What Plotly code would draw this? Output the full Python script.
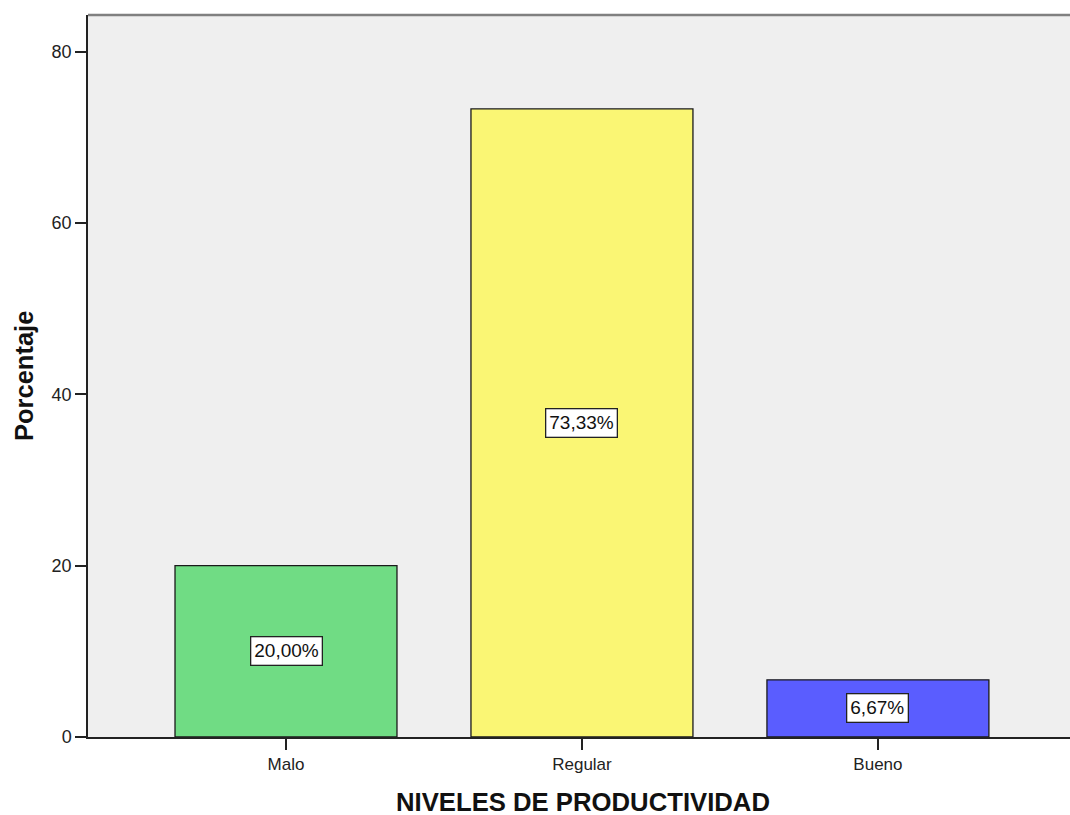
import plotly.graph_objects as go

categories = ["Malo", "Regular", "Bueno"]
percentages = [20.00, 73.33, 6.67]
bar_labels = ["20,00%", "73,33%", "6,67%"]
bar_colors = ["#70DC84", "#FAF674", "#5A5DFF"]
y_ticks = [0, 20, 40, 60, 80]

FONT = "Arial, Liberation Sans, sans-serif"
W, H = 1070, 815
M_L, M_R, M_T, M_B = 88, 0, 15, 78
plot_w = W - M_L - M_R
plot_h = H - M_T - M_B

fig = go.Figure()
fig.add_trace(go.Bar(
    x=categories,
    y=percentages,
    width=0.75,
    marker=dict(color=bar_colors, line=dict(color="#1a1a1a", width=1.3)),
    hoverinfo="skip",
))

# value boxes centred inside each bar
for cat, val, lab in zip(categories, percentages, bar_labels):
    fig.add_annotation(
        x=cat, y=val / 2, text=lab, showarrow=False,
        font=dict(family=FONT, size=19, color="#111111"),
        bgcolor="white", bordercolor="#222222", borderwidth=1.3, borderpad=3,
    )

# axis titles placed in pixel terms relative to the plot area
fig.add_annotation(
    xref="paper", yref="paper", x=(583 - M_L) / plot_w, y=-(802 - (M_T + plot_h)) / plot_h,
    xanchor="center", yanchor="middle", showarrow=False,
    text="<b>NIVELES DE PRODUCTIVIDAD</b>", font=dict(family=FONT, size=25.7, color="#111111"),
)
fig.add_annotation(
    xref="paper", yref="paper", x=-(M_L - 24) / plot_w, y=0.5,
    xanchor="center", yanchor="middle", showarrow=False, textangle=-90,
    text="<b>Porcentaje</b>", font=dict(family=FONT, size=25.5, color="#111111"),
)

# grey frame line along the top of the plot area
fig.add_shape(type="line", xref="paper", yref="paper", x0=0, x1=1, y0=1, y1=1,
              line=dict(color="#808080", width=2.5))

fig.update_layout(
    width=W, height=H,
    margin=dict(l=M_L, r=M_R, t=M_T, b=M_B),
    paper_bgcolor="white",
    plot_bgcolor="#EFEFEF",
    showlegend=False,
    font=dict(family=FONT, color="#222222"),
)
fig.update_xaxes(
    range=[-0.669, 2.649],
    showline=True, linecolor="#222222", linewidth=1.5,
    ticks="outside", ticklen=11, tickcolor="#222222", tickwidth=1.5,
    tickfont=dict(size=17, color="#222222"),
    showgrid=False, zeroline=False,
)
fig.update_yaxes(
    range=[0, 84.3],
    tickvals=y_ticks,
    showline=True, linecolor="#222222", linewidth=1.5,
    ticks="outside", ticklen=11, tickcolor="#222222", tickwidth=1.5,
    tickfont=dict(size=18, color="#222222"),
    showgrid=False, zeroline=False,
)

fig.write_html("out.html")
